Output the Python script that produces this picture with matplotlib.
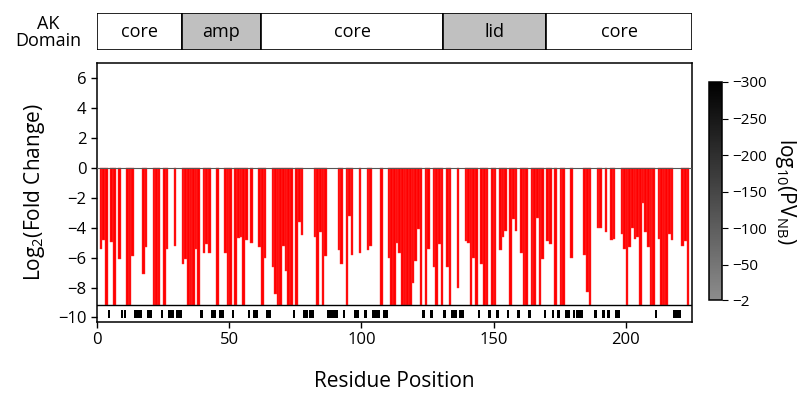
import numpy as np
import matplotlib
matplotlib.use('Agg')
import matplotlib.pyplot as plt
from matplotlib.colors import LinearSegmentedColormap, Normalize
from matplotlib.patches import Rectangle

plt.rcParams['font.family'] = ['Open Sans', 'DejaVu Sans']
plt.rcParams['mathtext.fontset'] = 'custom'
plt.rcParams['mathtext.rm'] = 'Open Sans'
plt.rcParams['mathtext.it'] = 'Open Sans:italic'
plt.rcParams['mathtext.bf'] = 'Open Sans:bold'

# Input data
F = -9.15  # bars that run to the floor of the panel
bar_pos = [1, 2, 3, 5, 6, 8, 11, 12, 13, 17, 18, 21, 22, 23, 25, 26, 29, 32, 33, 34,
           35, 36, 37, 38, 40, 41, 42, 45, 48, 49, 50, 52, 53, 54, 55, 56, 58, 61, 62, 63,
           66, 67, 68, 69, 70, 71, 72, 73, 75, 76, 77, 82, 83, 84, 85, 86, 91, 92, 94, 95,
           96, 99, 102, 103, 107, 110, 111, 112, 113, 114, 115, 116, 117, 118, 119, 120, 121, 122, 124, 125,
           127, 128, 129, 130, 132, 133, 136, 139, 140, 141, 142, 143, 145, 146, 147, 149, 150, 152, 153, 154,
           156, 157, 158, 160, 161, 162, 164, 165, 166, 167, 168, 170, 171, 173, 175, 176, 179, 184, 185, 186,
           189, 190, 192, 194, 195, 198, 199, 200, 201, 202, 203, 204, 205, 206, 207, 208, 209, 210, 212, 213,
           214, 215, 216, 217, 221, 222, 223]
bar_val = [-5.4, -4.8, F, -4.95, F, -6.1, F, F, -5.9, -7.1, -5.3, F, F, F, F, -5.4, -5.2, -6.4, -6.1, F,
           F, F, -5.4, F, -5.7, -5.1, -5.7, F, -5.7, F, F, F, -4.7, -4.6, F, -4.85, -5.0, -5.3, F, -6.0,
           -6.6, -8.4, F, F, -5.2, -6.9, F, F, F, -3.6, -4.5, -4.6, F, -4.3, F, -5.9, -5.5, -6.4, F, -3.2,
           -5.8, -5.7, -5.5, -5.2, F, -6.0, F, F, -5.0, -5.7, F, F, F, F, -7.7, -6.2, -4.1, F, F, -5.4,
           -6.6, F, -5.1, F, -6.6, F, -8.0, -4.9, -5.0, F, -6.0, F, -6.4, F, F, F, F, -5.5, -4.6, -4.2,
           F, -3.4, -4.2, -5.7, F, F, F, F, -3.35, F, -6.1, -4.9, -5.1, F, F, F, -6.0, -5.85, -8.3, F,
           -4.0, -4.0, -4.3, -4.85, -4.75, -4.45, -5.45, F, -5.3, -4.0, -4.75, -4.6, F, -2.35, -4.3, -5.3, F, F, -4.75, F,
           F, F, -4.4, -4.85, -5.2, -4.9, F]

# residues marked in the lower strip
mark_pos = [4, 9, 10, 14, 15, 16, 19, 20, 24, 27, 28, 30, 31, 39, 43, 44, 46, 47, 51, 57,
            59, 60, 64, 65, 74, 78, 79, 80, 81, 87, 88, 89, 90, 93, 97, 98, 101, 104, 105, 106,
            108, 109, 123, 126, 131, 134, 135, 137, 138, 144, 148, 151, 155, 159, 163, 169, 172, 174, 177, 178,
            180, 181, 182, 183, 188, 191, 193, 196, 197, 211, 218, 219, 220]

# domain map
dom_names = ['core', 'amp', 'core', 'lid', 'core']
dom_start = [0, 32, 62, 131, 170]
dom_end = [32, 62, 131, 170, 225]
dom_color = ['white', '#c0c0c0', 'white', '#c0c0c0', 'white']

cbar_ticks = [-300, -250, -200, -150, -100, -50, -2]

fig = plt.figure(figsize=(8.05, 3.98), dpi=100)
ax = fig.add_axes([0.1205, 0.191, 0.739, 0.651])
axd = fig.add_axes([0.1205, 0.874, 0.739, 0.093])
cax = fig.add_axes([0.881, 0.246, 0.016, 0.548])

# main bars
ax.bar(bar_pos, bar_val, width=1.0, align='edge', color='#ff0000',
       edgecolor='#ff3a3a', linewidth=0.3, zorder=2)
ax.bar(np.array(mark_pos) + 0.5, 0.5, bottom=-10.02, width=0.95, color='black', zorder=3)
ax.axhline(0, color='#555555', linewidth=0.8, zorder=3)
ax.axhline(F, color='black', linewidth=1.0, zorder=3)

ax.set_xlim(0, 225)
ax.set_ylim(-10.3, 7)
ax.set_yticks(np.arange(-10, 7, 2))
ax.set_xticks([0, 50, 100, 150, 200])
ax.tick_params(labelsize=12, length=4, width=1)
for s in ax.spines.values():
    s.set_linewidth(1.1)
ax.set_xlabel('Residue Position', fontsize=15, labelpad=16)
ax.set_ylabel('Log$_2$(Fold Change)', fontsize=15, labelpad=8)

# domain bar
for name, a, b, c in zip(dom_names, dom_start, dom_end, dom_color):
    axd.add_patch(Rectangle((a, 0), b - a, 1, facecolor=c, edgecolor='black', linewidth=1.2))
    axd.text((a + b) / 2, 0.5, name, ha='center', va='center', fontsize=13)
axd.set_xlim(0, 225)
axd.set_ylim(0, 1)
axd.axis('off')
fig.text(0.06, 0.918, 'AK\nDomain', ha='center', va='center', fontsize=13, linespacing=0.95)

# colorbar
cmap = LinearSegmentedColormap.from_list('pv', ['#000000', '#8c8c8c'])
norm = Normalize(vmin=-300, vmax=-2)
sm = matplotlib.cm.ScalarMappable(norm=norm, cmap=cmap)
cb = fig.colorbar(sm, cax=cax, ticks=cbar_ticks)
cax.invert_yaxis()
cb.outline.set_linewidth(1.1)
cax.tick_params(labelsize=11, length=4)
cb.set_label('log$_{10}$(PV$_{\\mathrm{NB}}$)', fontsize=15, rotation=270, labelpad=22)

fig.savefig('out.png', dpi=100)
